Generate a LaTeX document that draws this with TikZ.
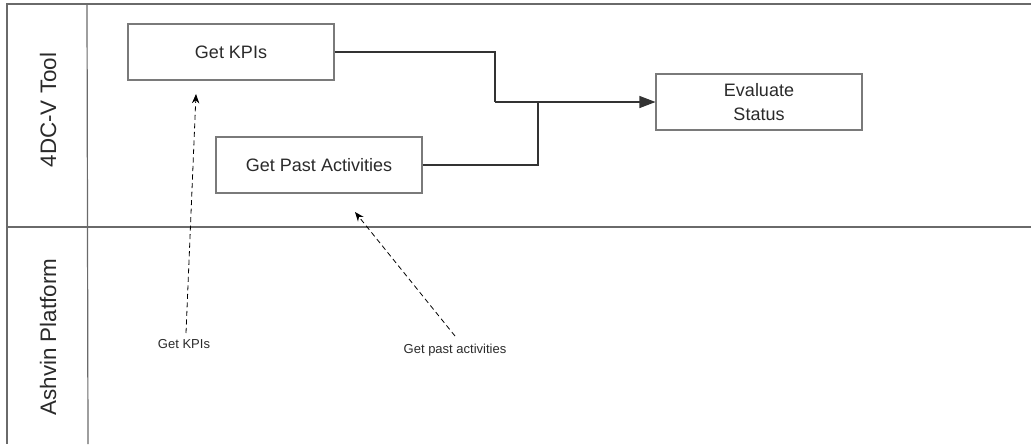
\documentclass[tikz,border=0pt]{standalone}
\usepackage{fontspec}
\setmainfont{Liberation Sans}
\usetikzlibrary{arrows.meta}
\definecolor{lanecol}{HTML}{6A6A6A}
\definecolor{boxcol}{HTML}{7A7A7A}
\definecolor{txtcol}{HTML}{2A2A2A}
\begin{document}
\begin{tikzpicture}[x=0.75pt,y=-0.75pt,
  lane/.style={draw=lanecol,line width=0.9pt},
  stepbox/.style={draw=boxcol,line width=0.8pt,minimum width=154.5pt,minimum height=42pt,inner sep=0pt,font=\fontsize{13.5}{16}\selectfont,text=txtcol,align=center},
  flow/.style={draw=black!80,line width=0.8pt},
  msg/.style={draw=black,line width=0.6pt,dash pattern=on 3.8pt off 2.6pt,-{Stealth[length=7pt,width=5.5pt]}},
  msglabel/.style={font=\fontsize{9.75}{12}\selectfont,text=txtcol,inner sep=0pt},
  lanelabel/.style={font=\fontsize{16.8}{20}\selectfont,text=txtcol,rotate=90,inner sep=0pt}]
\useasboundingbox (0,0) rectangle (1031,444);
% lanes
\draw[lane] (1031,4) -- (7,4) -- (7,444);
\draw[lane] (87,4) -- (88,444);
\draw[lane] (7,227) -- (1031,227);
\node[lanelabel] (l1) at (48,110) {4DC-V Tool};
\node[lanelabel] (l2) at (48,337) {Ashvin Platform};
% boxes
\node[stepbox] (kpi) at (231,52) {Get KPIs};
\node[stepbox] (past) at (319,165) {Get Past Activities};
\node[stepbox] (eval) at (759,102) {Evaluate\\[2pt]Status};
% flows
\coordinate (j1) at (495,102);
\draw[flow] (kpi.east) -| (j1);
\draw[flow] (past.east) -| (538,102);
\draw[flow,-{Triangle[length=12pt,width=9pt]}] (j1) -- (eval.west);
% messages
\node[msglabel] (mk) at (184,344) {Get KPIs};
\node[msglabel] (mp) at (455,350) {Get past activities};
\coordinate (mkstart) at (186,333);
\coordinate (mkend) at (196,94);
\coordinate (mpstart) at (455,336);
\coordinate (mpend) at (355,212);
\draw[msg] (mkstart) -- (mkend);
\draw[msg] (mpstart) -- (mpend);
\end{tikzpicture}
\end{document}
